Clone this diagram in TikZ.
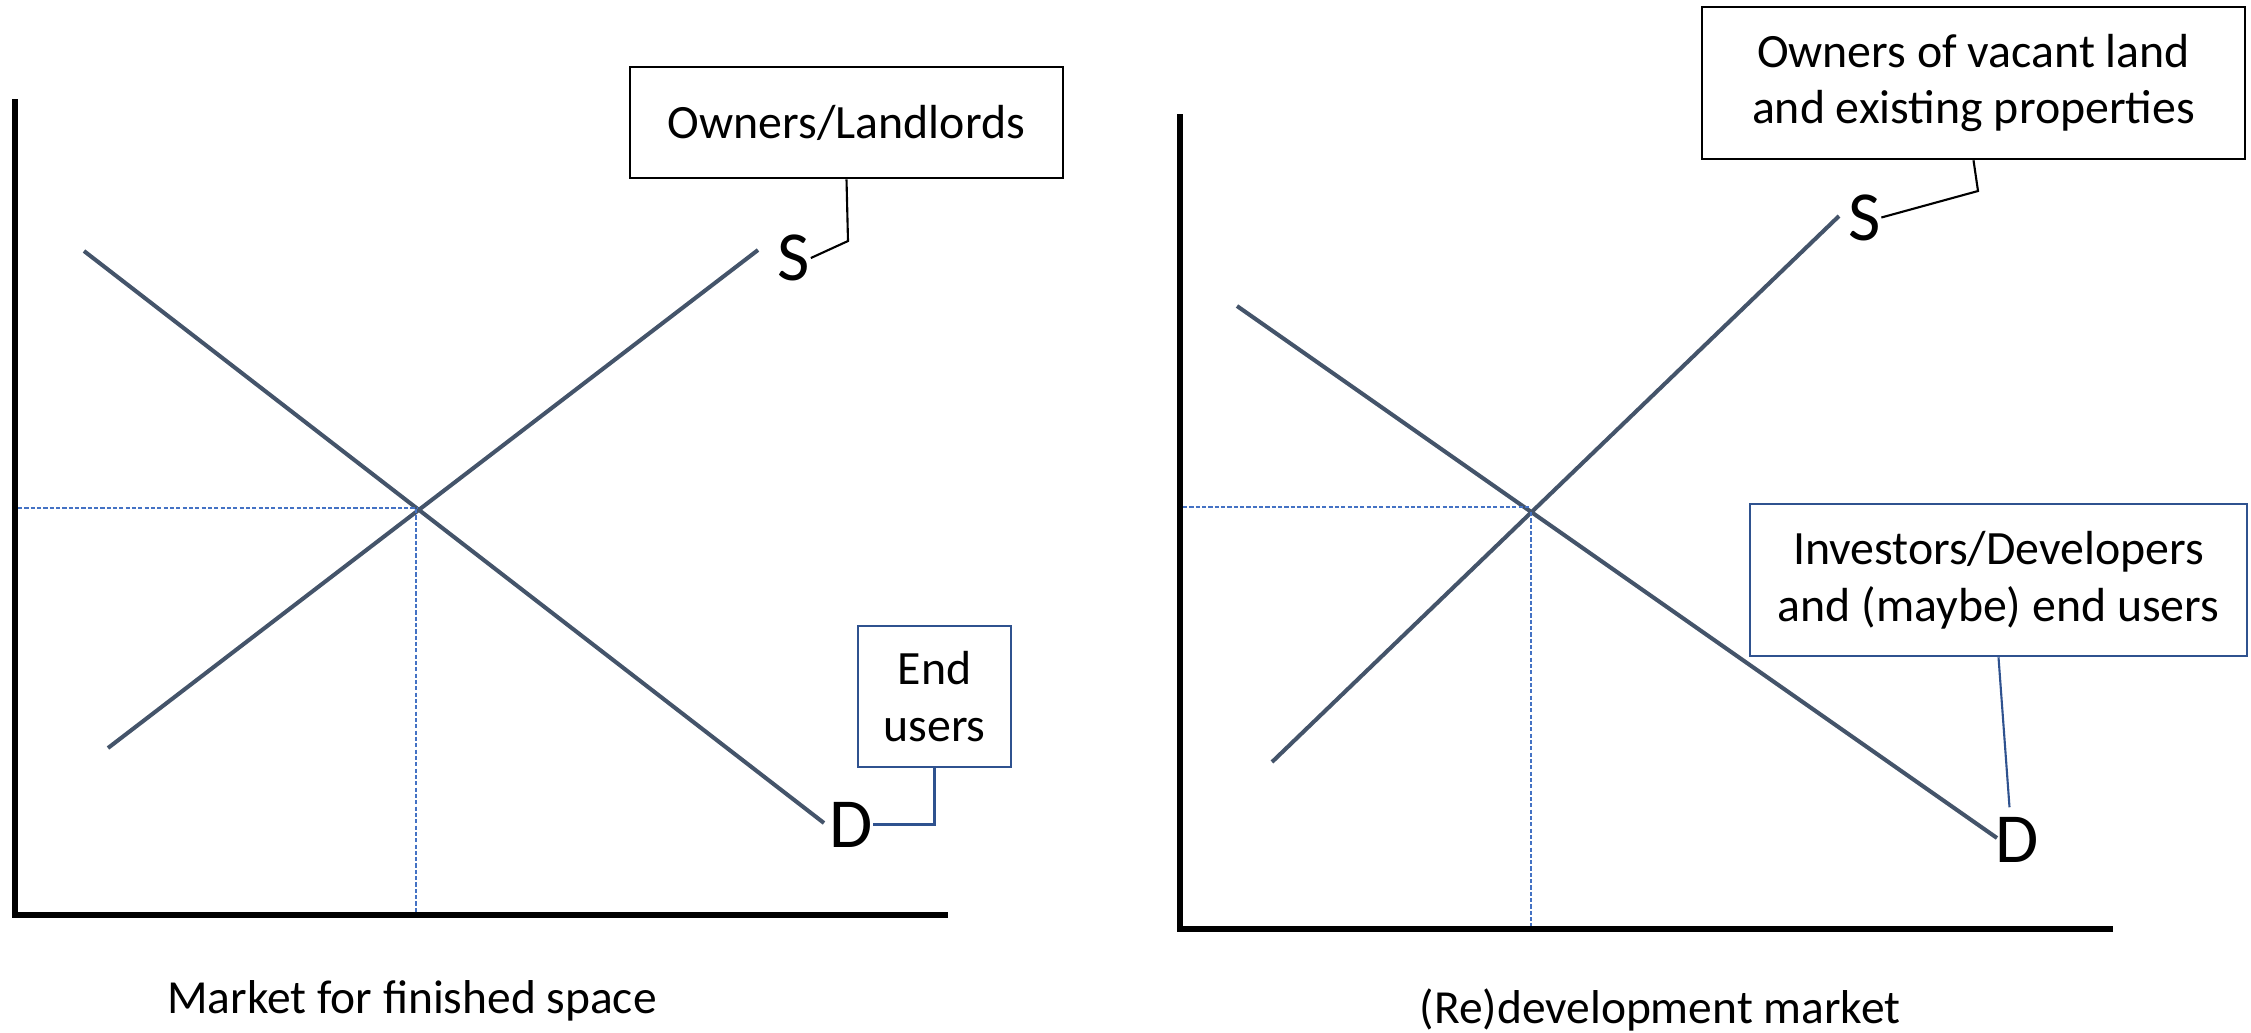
\documentclass[tikz,border=0pt]{standalone}
\usepackage{fontspec}
\setmainfont{Carlito}
\usepackage{xcolor}
\usetikzlibrary{positioning}
\definecolor{curveclr}{HTML}{44546A}
\definecolor{guideclr}{HTML}{4472C4}
\definecolor{boxblue}{HTML}{2F528F}

\begin{document}
\begin{tikzpicture}[x=0.01cm, y=-0.01cm,
		mktcurve/.style={draw=curveclr, line width=1.15pt},
		mktaxis/.style={draw=black, line width=1.7pt},
		eqguide/.style={draw=guideclr, dash pattern=on 1.2pt off 0.6pt, line width=0.4pt},
		curvename/.style={font=\fontsize{20pt}{24pt}\selectfont, inner sep=0pt},
		partybox/.style={draw, line width=0.7pt, align=center, inner sep=0pt, font=\fontsize{13.6pt}{16.2pt}\selectfont},
		bluebox/.style={partybox, draw=boxblue},
		callout/.style={line width=0.6pt},
		mktcaption/.style={anchor=base, font=\fontsize{13.5pt}{16pt}\selectfont}]
		\useasboundingbox (0,0) rectangle (2251,1032);
		
		% Market for finished space
		\node[partybox, minimum width=4.33cm, minimum height=1.11cm] (ownL) at (846.5,122.5) {Owners/Landlords};
		\node[bluebox, minimum width=1.53cm, minimum height=1.41cm] (endL) at (934.5,696.5) {End\\users};
		\node[curvename] (sL) at (794,258) {S};
		\node[curvename] (dL) at (851,824.5) {D};
		
		\draw[mktaxis] (15,99) -- (15,918);
		\draw[mktaxis] (12,915) -- (948,915);
		\draw[mktcurve] (84,251) -- (824,823);
		\draw[mktcurve] (108,748) -- (758,250);
		\draw[eqguide] (18,508) -- (417,508);
		\draw[eqguide] (416,509) -- (416,912);
		
		\draw[callout] (ownL.south) -- (848,241) -- (sL.east);
		\draw[callout, draw=boxblue] (endL.south) |- (dL.east);
		
		% (Re)development market
		\node[partybox, minimum width=5.43cm, minimum height=1.52cm] (ownR) at (1973.5,83) {Owners of vacant land\\and existing properties};
		\node[bluebox, minimum width=4.97cm, minimum height=1.52cm] (invR) at (1998.5,580) {Investors/Developers\\and (maybe) end users};
		\node[curvename] (sR) at (1864.5,217.5) {S};
		\node[curvename] (dR) at (2017.5,839.5) {D};
		
		\draw[mktaxis] (1180,114) -- (1180,932);
		\draw[mktaxis] (1177,929) -- (2113,929);
		\draw[mktcurve] (1237,306) -- (1997,838);
		\draw[mktcurve] (1272,762) -- (1839,216);
		\draw[eqguide] (1183,507) -- (1530,507);
		\draw[eqguide] (1531,512) -- (1531,926);
		
		\draw[callout] (ownR.south) -- (1978,191) -- (sR.east);
		\draw[callout, draw=boxblue] (invR.south) -- ([xshift=-0.08cm, yshift=0.09cm]dR.north);
		
		% Captions
		\node[mktcaption] (capL) at (412,1013) {Market for finished space};
		\node[mktcaption] (capR) at (1660,1023) {(Re)development market};
	\end{tikzpicture}
\end{document}
